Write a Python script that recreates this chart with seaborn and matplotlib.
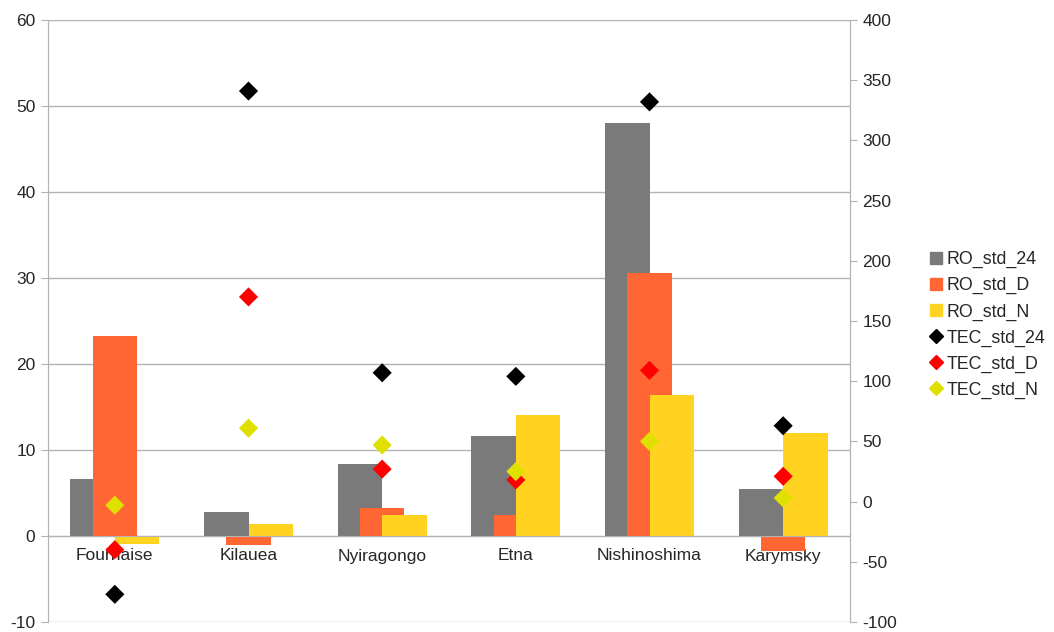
import numpy as np
import pandas as pd
import matplotlib
matplotlib.use('Agg')
import matplotlib.pyplot as plt
import seaborn as sns
from matplotlib.lines import Line2D

# du lieu
volcanoes = ['Fournaise', 'Kilauea', 'Nyiragongo', 'Etna', 'Nishinoshima', 'Karymsky']
ro_std_24 = [6.6, 2.8, 8.4, 11.6, 48.0, 5.5]
ro_std_d = [23.2, -1.1, 3.3, 2.4, 30.6, -1.7]
ro_std_n = [-0.9, 1.4, 2.4, 14.1, 16.4, 12.0]
tec_std_24 = [-77, 341, 107, 104, 332, 63]
tec_std_d = [-40, 170, 27, 18, 109, 21]
tec_std_n = [-3, 61, 47, 25, 50, 3]

sns.set_style('white')
plt.rcParams['font.family'] = ['Liberation Sans', 'DejaVu Sans']
plt.rcParams['axes.unicode_minus'] = False

fig = plt.figure(figsize=(10.54, 6.32), dpi=100)
ax = fig.add_axes([48 / 1054, 10 / 632, 802 / 1054, 602 / 632])
ax2 = ax.twinx()

idx = np.arange(len(volcanoes))
bar_series = [('RO_std_24', ro_std_24, '#7a7a7a', -1 / 6),
              ('RO_std_D', ro_std_d, '#ff6633', 0),
              ('RO_std_N', ro_std_n, '#ffd320', 1 / 6)]
for name, vals, col, off in bar_series:
    sns.barplot(x=idx + off, y=vals, native_scale=True, width=1 / 3,
                color=col, saturation=1, linewidth=0, edgecolor='none',
                ax=ax, zorder=2)

tec_series = [('TEC_std_24', tec_std_24, '#000000'),
              ('TEC_std_D', tec_std_d, '#ff0000'),
              ('TEC_std_N', tec_std_n, '#e0e000')]
for name, vals, col in tec_series:
    sns.scatterplot(x=idx, y=vals, marker='D', s=95, color=col,
                    edgecolor='none', ax=ax2, zorder=3)

ax.set_xlim(-0.5, 5.5)
ax.set_ylim(-10, 60)
ax.set_yticks(range(-10, 61, 10))
ax2.set_ylim(-100, 400)
ax2.set_yticks(range(-100, 401, 50))

ax.set_xticks(idx)
ax.set_xticklabels(volcanoes)
ax.set_xticks(np.arange(-0.5, 6, 1), minor=True)
ax.tick_params(axis='x', which='major', length=0, pad=9, labelsize=12.5)
ax.tick_params(axis='x', which='minor', length=6, color='#b3b3b3', direction='out')
ax.spines['bottom'].set_position(('data', 0))
ax.tick_params(axis='y', labelsize=12.5, length=5, color='#b3b3b3', pad=4)
ax2.tick_params(axis='y', labelsize=12.5, length=5, color='#b3b3b3', pad=4)
ax.set_xlabel('')
ax.set_ylabel('')
ax2.set_ylabel('')

ax.grid(axis='y', color='#b3b3b3', linewidth=1)
ax.set_axisbelow(True)
for a in (ax, ax2):
    for s in a.spines.values():
        s.set_color('#b3b3b3')
    a.spines['top'].set_visible(False)
ax2.spines['bottom'].set_visible(False)

handles = [Line2D([], [], marker='s', linestyle='', color=c, markersize=9, label=n)
           for n, v, c, o in bar_series]
handles += [Line2D([], [], marker='D', linestyle='', color=c, markersize=7, label=n)
            for n, v, c in tec_series]
fig.legend(handles=handles, loc='center left', bbox_to_anchor=(916 / 1054, 1 - 325 / 632),
           frameon=False, fontsize=12.8, handlelength=0.8, handletextpad=0.2,
           labelspacing=0.5, borderpad=0.2)

fig.savefig('out.png', dpi=100)
